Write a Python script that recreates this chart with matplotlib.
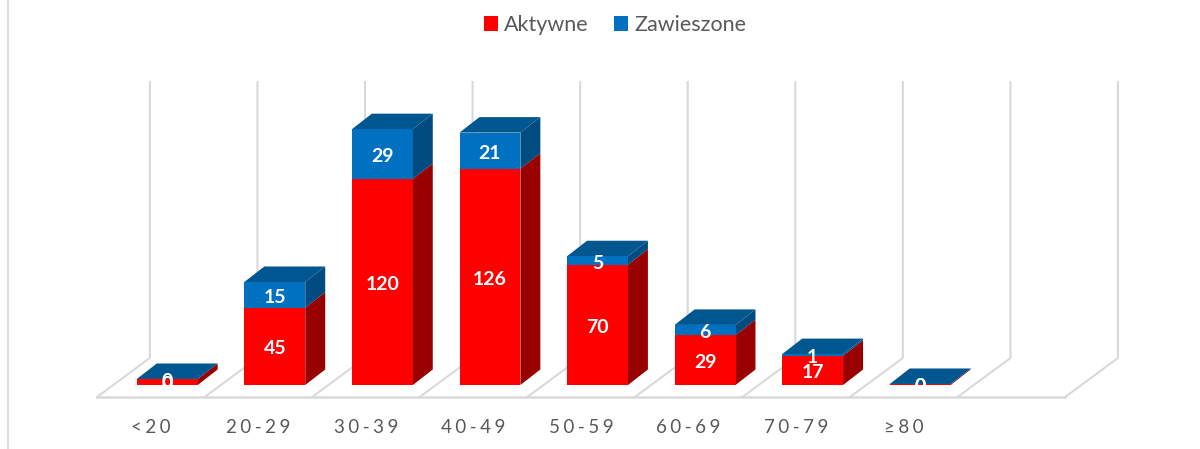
import matplotlib
matplotlib.use("Agg")
import matplotlib.pyplot as plt
from matplotlib.lines import Line2D

plt.rcParams['font.family'] = ['Lato', 'DejaVu Sans']

categories = ['<20', '20-29', '30-39', '40-49', '50-59', '60-69', '70-79', '≥80', '']
aktywne = [3.5, 45, 120, 126, 70, 29, 17, 0.6]
zawieszone = [0, 15, 29, 21, 5, 6, 1, 0]
aktywne_labels = ['0', '45', '120', '126', '70', '29', '17', '0']
zawieszone_labels = ['0', '15', '29', '21', '5', '6', '1', '0']

RED = '#FF0000'
RED_SIDE = '#990000'
BLUE = '#0070C0'
BLUE_SIDE = '#004B80'
BLUE_TOP = '#00568F'
GRID = '#D9D9D9'
TEXT = '#595959'

W, H = 1200, 449
PX_X = 107.8  # px per category
PX_Y = 1.717  # px per value unit
BAR_W = 61 / PX_X
BAR_DX = 20 / PX_X  # bar depth
BAR_DY = 15.5 / PX_Y
BAR_SHIFT = 16.5 / PX_X  # bars stand a bit behind the front edge
FLOOR_DX = 53 / PX_X
FLOOR_Y = -12 / PX_Y
BACK_Y = 27 / PX_Y
TOP_Y = 303 / PX_Y


def side_poly(ax, x, y0, y1, color, z):
    xr = x + BAR_W / 2
    ax.fill([xr, xr + BAR_DX, xr + BAR_DX, xr],
            [y0, y0 + BAR_DY, y1 + BAR_DY, y1], color=color, lw=0, zorder=z, clip_on=False)


def top_poly(ax, x, y, color, z):
    xl = x - BAR_W / 2
    xr = x + BAR_W / 2
    ax.fill([xl, xr, xr + BAR_DX, xl + BAR_DX],
            [y, y, y + BAR_DY, y + BAR_DY], color=color, lw=0, zorder=z, clip_on=False)


def value_label(ax, x, y, s):
    ax.annotate(s, (x, y), xytext=(0, -1.8), textcoords='offset points', color='white',
                fontsize=14, fontweight='bold', ha='center', va='center', zorder=5)


fig = plt.figure(figsize=(W / 100, H / 100), dpi=100)
left = 97 / W
bottom = (H - 397) / H
ax = fig.add_axes([left, bottom, (1118 - 97) / W, (397 - 82) / H])
ax.set_xlim(-0.5, 8.5 + FLOOR_DX)
ax.set_ylim(FLOOR_Y, TOP_Y)
for s in ax.spines.values():
    s.set_visible(False)
ax.set_yticks([])

# walls and floor
for i in range(len(categories) + 1):
    ax.plot([i - 0.5 + FLOOR_DX, i - 0.5 + FLOOR_DX, i - 0.5], [TOP_Y, BACK_Y, FLOOR_Y],
            color=GRID, lw=1.5, zorder=1, clip_on=False, solid_joinstyle='miter')
ax.plot([-0.5, 8.5], [FLOOR_Y, FLOOR_Y], color=GRID, lw=1.8, zorder=1, clip_on=False)

# bars
xs = [i + BAR_SHIFT for i in range(len(aktywne))]
tops = [a + b for a, b in zip(aktywne, zawieszone)]
ax.bar(xs, aktywne, BAR_W, color=RED, label='Aktywne', zorder=3, lw=0)
ax.bar(xs, zawieszone, BAR_W, bottom=aktywne, color=BLUE, label='Zawieszone', zorder=3, lw=0)
for x, a, t in zip(xs, aktywne, tops):
    side_poly(ax, x, 0, a, RED_SIDE, 2.5)
    side_poly(ax, x, a, t, BLUE_SIDE, 2.5)
    top_poly(ax, x, t, BLUE_TOP, 2.5)

# value labels
for x, a, t, la, lz in zip(xs, aktywne, tops, aktywne_labels, zawieszone_labels):
    value_label(ax, x, a / 2, la)
    value_label(ax, x, (a + t) / 2, lz)

# spaced out tick labels
ax.set_xticks(range(len(categories)))
ax.set_xticklabels(['\u2009\u200a'.join(c) for c in categories], fontsize=13.5, color=TEXT)
ax.tick_params(axis='x', length=0, pad=16)

leg = ax.legend(ncol=2, loc='center', bbox_to_anchor=((615 - 97) / (1118 - 97), (397 - 25) / (397 - 82)),
                frameon=False, fontsize=15.5, labelcolor=TEXT, handlelength=0.65, handleheight=0.65,
                handletextpad=0.3, columnspacing=1.15, borderpad=0, borderaxespad=0)

# chart area border on the left
fig.add_artist(Line2D([7.5 / W, 7.5 / W], [0, 1], color=GRID, lw=1.2))

fig.savefig('out.png', dpi=100)
